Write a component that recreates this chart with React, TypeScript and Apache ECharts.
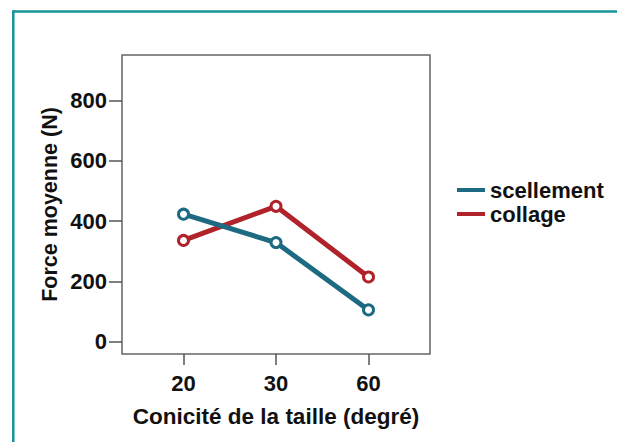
import React, { useEffect, useRef } from "react";
import * as echarts from "echarts";

const categories = ["20", "30", "60"];
const scellement = [423, 329, 106];
const collage = [336, 449, 215];
const yTicks = [0, 200, 400, 600, 800];

const FONT = "'Liberation Sans', Arial, sans-serif";
const BLUE = "#1d6a82";
const RED = "#b0232b";

export default function App() {
  const ref = useRef<HTMLDivElement>(null);
  useEffect(() => {
    if (!ref.current) return;
    const chart = echarts.init(ref.current, undefined, { renderer: "svg" });
    const xIdx = categories.map((_, i) => i);
    chart.setOption({
      animation: false,
      backgroundColor: "#ffffff",
      textStyle: { fontFamily: FONT },
      grid: {
        left: 122,
        top: 55,
        right: 187,
        bottom: 88,
        show: true,
        borderColor: "#666",
        borderWidth: 1.5,
        backgroundColor: "transparent",
      },
      legend: {
        orient: "vertical",
        left: 452,
        top: 174,
        itemWidth: 28,
        itemHeight: 4,
        itemGap: 2,
        icon: "rect",
        textStyle: { fontFamily: FONT, fontWeight: "bold", fontSize: 22, color: "#111" },
        data: [
          { name: "scellement", itemStyle: { color: BLUE, borderWidth: 0 } },
          { name: "collage", itemStyle: { color: RED, borderWidth: 0 } },
        ],
      },
      xAxis: {
        type: "value",
        min: -0.665,
        max: 2.665,
        splitLine: { show: false },
        axisLine: { show: false, onZero: false },
        axisTick: { show: true, customValues: xIdx, length: 11, lineStyle: { color: "#555", width: 1.5 } },
        axisLabel: {
          customValues: xIdx,
          formatter: (v: number) => categories[Math.round(v)] ?? "",
          margin: 18,
          fontFamily: FONT,
          fontWeight: "bold",
          fontSize: 22,
          color: "#111",
        },
        name: "Conicité de la taille (degré)",
        nameLocation: "middle",
        nameGap: 51,
        nameTextStyle: { fontFamily: FONT, fontWeight: "bold", fontSize: 22.5, color: "#111" },
      },
      yAxis: {
        type: "value",
        min: -40,
        max: 950,
        splitLine: { show: false },
        axisLine: { show: false, onZero: false },
        axisTick: { show: true, customValues: yTicks, length: 13, lineStyle: { color: "#555", width: 1.5 } },
        axisLabel: {
          customValues: yTicks,
          margin: 15,
          fontFamily: FONT,
          fontWeight: "bold",
          fontSize: 22,
          color: "#111",
        },
        name: "Force moyenne (N)",
        nameLocation: "middle",
        nameGap: 61,
        nameRotate: 90,
        nameTextStyle: { fontFamily: FONT, fontWeight: "bold", fontSize: 21.5, color: "#111" },
      },
      series: [
        {
          name: "scellement",
          type: "line",
          data: scellement.map((v, i) => [i, v]),
          color: BLUE,
          lineStyle: { width: 5, color: BLUE },
          symbol: "circle",
          symbolSize: 10,
          itemStyle: { color: "#ffffff", borderColor: BLUE, borderWidth: 3 },
          z: 3,
        },
        {
          name: "collage",
          type: "line",
          data: collage.map((v, i) => [i, v]),
          color: RED,
          lineStyle: { width: 5, color: RED },
          symbol: "circle",
          symbolSize: 10,
          itemStyle: { color: "#ffffff", borderColor: RED, borderWidth: 3 },
          z: 2,
        },
      ],
      graphic: [
        { type: "line", shape: { x1: 13, y1: 11.5, x2: 617, y2: 11.5 }, style: { stroke: "#17939a", lineWidth: 2.5 } },
        { type: "line", shape: { x1: 13.3, y1: 10.3, x2: 13.3, y2: 442 }, style: { stroke: "#17939a", lineWidth: 2.5 } },
      ],
    });
    return () => chart.dispose();
  }, []);
  return <div ref={ref} style={{ position: "fixed", left: 0, top: 0, width: 617, height: 442 }} />;
}
